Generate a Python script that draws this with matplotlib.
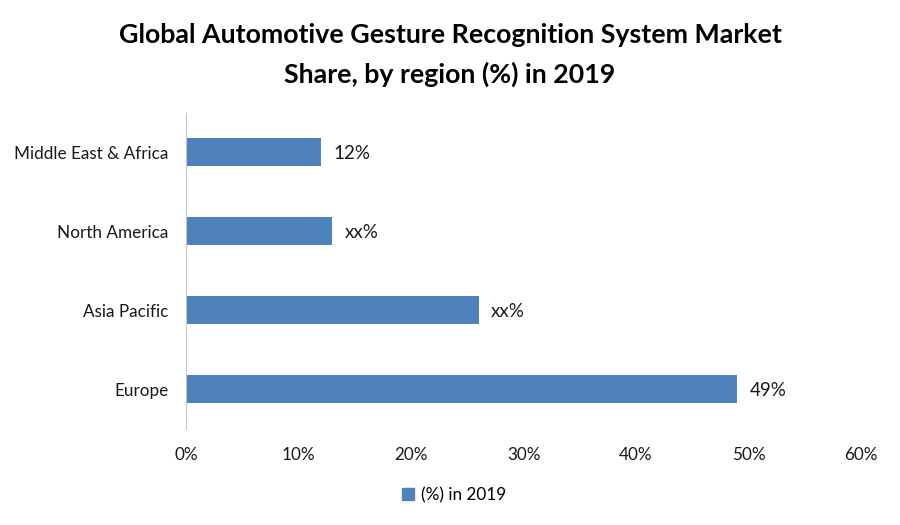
import matplotlib
matplotlib.use("Agg")
import matplotlib.pyplot as plt
from matplotlib.patches import Patch

categories = ["Europe", "Asia Pacific", "North America", "Middle East & Africa"]
values = [49, 26, 13, 12]
value_labels = ["49%", "xx%", "xx%", "12%"]
xticks = [0, 10, 20, 30, 40, 50, 60]
xtick_labels = ["0%", "10%", "20%", "30%", "40%", "50%", "60%"]
series_name = "(%) in 2019"
title = "Global Automotive Gesture Recognition System Market\nShare, by region (%) in 2019"

plt.rcParams['font.family'] = ['Lato', 'DejaVu Sans']
color = "#4F81BD"

fig = plt.figure(figsize=(9, 5.25), dpi=100)
ax = fig.add_axes([0.207, 0.1838, 0.7497, 0.6019])

y = list(range(len(categories)))
ax.barh(y, values, height=0.35, color=color)
ax.set_xlim(0, 60)
ax.set_ylim(-0.5, len(categories) - 0.5)
ax.set_yticks(y)
ax.set_yticklabels(categories, fontsize=12.3, color="#1a1a1a")
ax.set_xticks(xticks)
ax.set_xticklabels(xtick_labels, fontsize=12.3, color="#1a1a1a")
ax.tick_params(axis='both', length=0)
ax.tick_params(axis='y', pad=13)
ax.tick_params(axis='x', pad=13)
for s in ["top", "right", "bottom"]:
    ax.spines[s].set_visible(False)
ax.spines["left"].set_color("#c8c8c8")
ax.spines["left"].set_linewidth(0.8)

for yi, v, lab in zip(y, values, value_labels):
    ax.annotate(lab, (v, yi), xytext=(12, -1), textcoords="offset pixels",
                va="center", ha="left", fontsize=13.5, color="#1a1a1a")

fig.text(0.5, 1 - 35 / 525, "Global Automotive Gesture Recognition System Market",
         ha="center", va="center", fontsize=19.3, fontweight="bold")
fig.text(0.5, 1 - 74 / 525, "Share, by region (%) in 2019",
         ha="center", va="center", fontsize=19.3, fontweight="bold")

leg = fig.legend(handles=[Patch(color=color, label=series_name)], loc="center",
                 bbox_to_anchor=(0.505, 0.057), frameon=False, fontsize=12.3,
                 handlelength=0.7, handleheight=0.7, handletextpad=0.4)

fig.savefig("out.png", dpi=100, facecolor="white")
